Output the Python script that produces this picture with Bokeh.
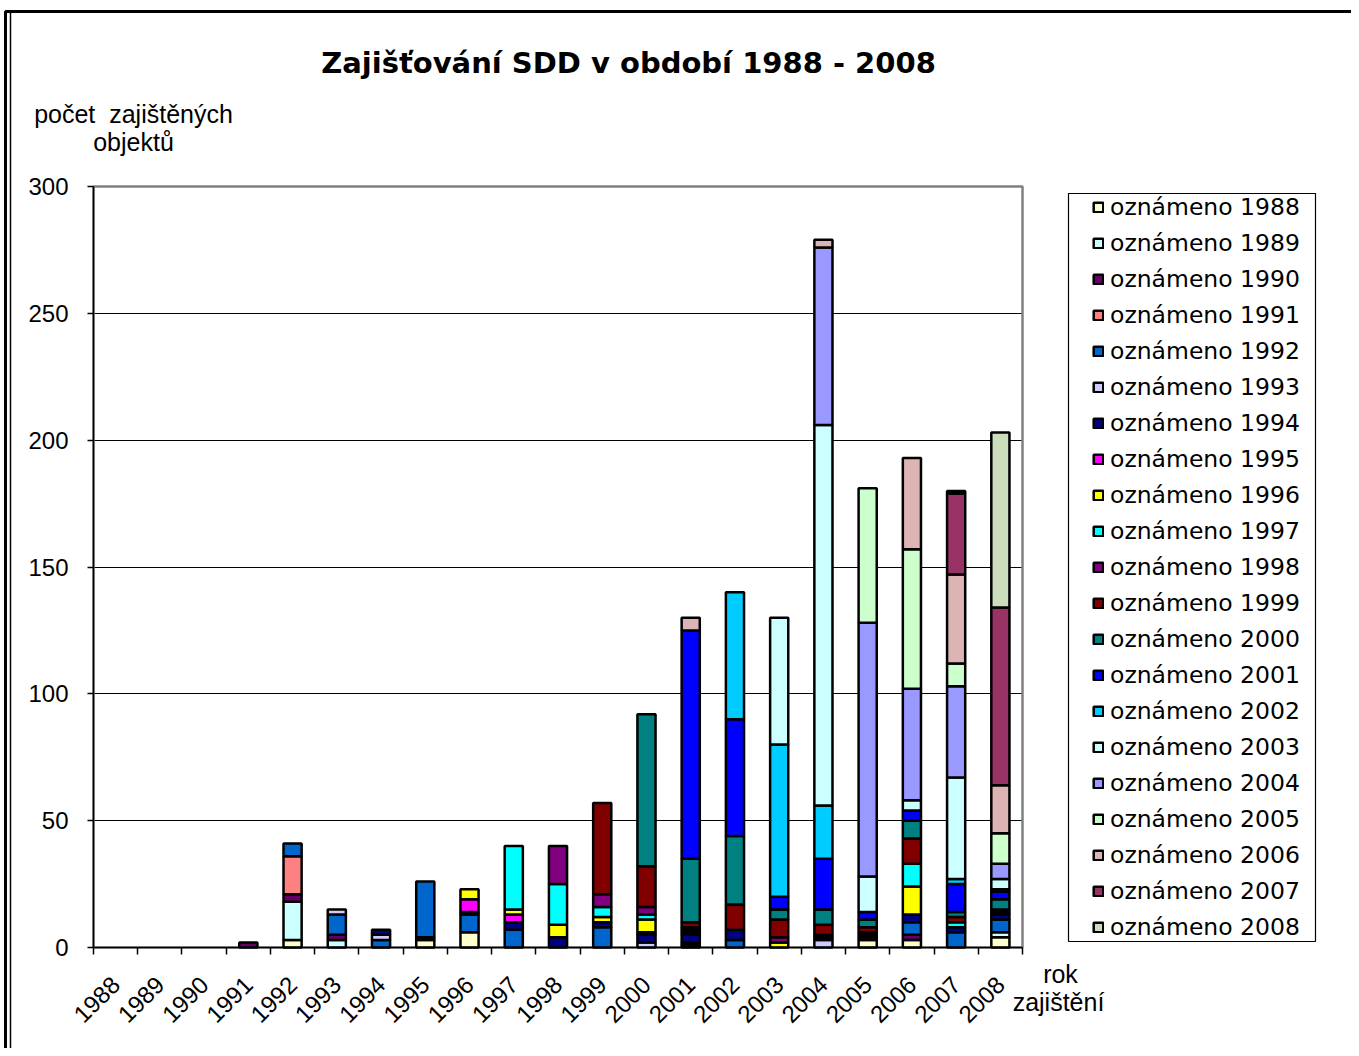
import math
from bokeh.plotting import figure
from bokeh.models import (Range1d, LinearAxis, FixedTicker, Grid,
                          Legend, LegendItem, Label, BoxAnnotation, ColumnDataSource)
from bokeh.embed import file_html
from bokeh.resources import INLINE

# ---------------- data ----------------
years = [str(y) for y in range(1988, 2009)]          # rok zajištění (x categories)
series_labels = ["oznámeno %d" % y for y in range(1988, 2009)]

o1988 = [0, 0, 0, 0, 3, 0, 0, 3, 6, 0, 0, 0, 0, 0, 0, 0, 0, 3, 3, 0, 4]
o1989 = [0, 0, 0, 0, 15, 3, 0, 0, 0, 0, 0, 0, 0, 1, 0, 0, 0, 0, 0, 0, 2]
o1990 = [0, 0, 0, 2, 3, 2, 0, 1, 0, 0, 0, 0, 0, 1, 0, 0, 0, 1, 2, 0, 0]
o1991 = [0, 0, 0, 0, 15, 0, 0, 0, 0, 0, 0, 0, 0, 0, 0, 0, 0, 0, 0, 0, 0]
o1992 = [0, 0, 0, 0, 5, 8, 3, 22, 7, 7, 0, 8, 0, 0, 3, 0, 0, 0, 5, 6, 5]
o1993 = [0, 0, 0, 0, 0, 2, 2, 0, 0, 0, 0, 0, 2, 0, 0, 0, 3, 0, 0, 0, 0]
o1994 = [0, 0, 0, 0, 0, 0, 2, 0, 1, 3, 4, 2, 3, 3, 4, 0, 1, 1, 3, 2, 2]
o1995 = [0, 0, 0, 0, 0, 0, 0, 0, 5, 3, 0, 0, 1, 1, 0, 0, 0, 0, 0, 0, 0]
o1996 = [0, 0, 0, 0, 0, 0, 0, 0, 4, 2, 5, 2, 5, 0, 0, 2, 0, 0, 11, 0, 0]
o1997 = [0, 0, 0, 0, 0, 0, 0, 0, 0, 25, 16, 4, 2, 1, 0, 0, 0, 0, 9, 2, 0]
o1998 = [0, 0, 0, 0, 0, 0, 0, 0, 0, 0, 15, 5, 3, 1, 0, 2, 1, 1, 0, 0, 1]
o1999 = [0, 0, 0, 0, 0, 0, 0, 0, 0, 0, 0, 36, 16, 2, 10, 7, 4, 2, 10, 2, 1]
o2000 = [0, 0, 0, 0, 0, 0, 0, 0, 0, 0, 0, 0, 60, 25, 27, 4, 6, 3, 7, 2, 4]
o2001 = [0, 0, 0, 0, 0, 0, 0, 0, 0, 0, 0, 0, 0, 90, 46, 5, 20, 3, 4, 11, 3]
o2002 = [0, 0, 0, 0, 0, 0, 0, 0, 0, 0, 0, 0, 0, 0, 50, 60, 21, 0, 0, 2, 1]
o2003 = [0, 0, 0, 0, 0, 0, 0, 0, 0, 0, 0, 0, 0, 0, 0, 50, 150, 14, 4, 40, 4]
o2004 = [0, 0, 0, 0, 0, 0, 0, 0, 0, 0, 0, 0, 0, 0, 0, 0, 70, 100, 44, 36, 6]
o2005 = [0, 0, 0, 0, 0, 0, 0, 0, 0, 0, 0, 0, 0, 0, 0, 0, 0, 53, 55, 9, 12]
o2006 = [0, 0, 0, 0, 0, 0, 0, 0, 0, 0, 0, 0, 0, 5, 0, 0, 3, 0, 36, 35, 19]
o2007 = [0, 0, 0, 0, 0, 0, 0, 0, 0, 0, 0, 0, 0, 0, 0, 0, 0, 0, 0, 32, 70]
o2008 = [0, 0, 0, 0, 0, 0, 0, 0, 0, 0, 0, 0, 0, 0, 0, 0, 0, 0, 0, 1, 69]

series = [o1988, o1989, o1990, o1991, o1992, o1993, o1994, o1995, o1996, o1997, o1998,
          o1999, o2000, o2001, o2002, o2003, o2004, o2005, o2006, o2007, o2008]

colors = ["#FFFFCC", "#CCFFFF", "#660066", "#FF8080", "#0066CC", "#CCCCFF", "#000080",
          "#FF00FF", "#FFFF00", "#00FFFF", "#800080", "#800000", "#008080", "#0000FF",
          "#00CCFF", "#CCFFFF", "#9999FF", "#CCFFCC", "#DDB4B4", "#993366", "#CCDDBB"]

y_ticks = [0, 50, 100, 150, 200, 250, 300]
y_max = 300

n = len(years)
centers = [i + 0.5 for i in range(n)]      # category i occupies slot [i, i+1]
bounds_ticks = list(range(n + 1))          # category boundaries (tick marks)

# ---------------- layout (pixels) ----------------
W, H = 1351, 1048
PL, PR, PT, PB = 93, 1022, 186, 947          # plot-area edges on the canvas
xs = (PR - PL) / n
ys = (PB - PT) / y_max
x_rng = Range1d(-PL / xs, (W - PL) / xs)
y_rng = Range1d(-(H - PB) / ys, y_max + PT / ys)

p = figure(x_range=x_rng, y_range=y_rng, width=W, height=H,
           output_backend="svg", toolbar_location=None,
           x_axis_location=None, y_axis_location="left",
           min_border=0, min_border_left=0, min_border_right=0,
           min_border_top=0, min_border_bottom=0)
p.background_fill_color = "white"
p.border_fill_color = "white"
p.outline_line_color = None
p.xgrid.visible = False

# y axis fixed at the left edge of the plot area
yax = p.yaxis[0]
yax.fixed_location = 0
yax.bounds = (0, y_max)
yax.ticker = FixedTicker(ticks=y_ticks)
yax.axis_line_color = "black"
yax.axis_line_width = 1.5
yax.major_tick_out = 6
yax.major_tick_in = 0
yax.major_tick_line_width = 1.5
yax.minor_tick_line_color = None
yax.major_label_text_font = "Liberation Sans"
yax.major_label_text_font_size = "24px"
yax.major_label_text_color = "black"
yax.major_label_standoff = 19

# horizontal grid lines across the plot area only
gr = p.ygrid[0]
gr.grid_line_color = "black"
gr.grid_line_width = 1
gr.bounds = (0, y_max)
if "cross_bounds" in Grid.properties():
    gr.cross_bounds = (0, n)
else:
    gr.visible = False
    p.segment(x0=[0] * len(y_ticks), x1=[n] * len(y_ticks), y0=y_ticks, y1=y_ticks,
              line_color="black", line_width=1)

# plot-area border (grey, top & right visible)
p.add_layout(BoxAnnotation(left=0, right=n, bottom=0, top=y_max, fill_color=None, fill_alpha=0,
                           line_color="#808080", line_alpha=1, line_width=2.5, level="underlay"))

# x axis: labels at category centres, tick marks (minor ticks) at category boundaries
xax = LinearAxis(ticker=FixedTicker(ticks=centers, minor_ticks=bounds_ticks),
                 fixed_location=0, bounds=(0, n))
xax.major_label_overrides = {c: y for c, y in zip(centers, years)}
xax.axis_line_color = "black"
xax.axis_line_width = 1.5
xax.major_tick_line_color = None
xax.minor_tick_line_color = "black"
xax.minor_tick_line_width = 1.5
xax.minor_tick_out = 7
xax.minor_tick_in = 0
xax.major_label_orientation = math.pi / 4
xax.major_label_standoff = 26
xax.major_label_text_font = "Liberation Sans"
xax.major_label_text_font_size = "24px"
xax.major_label_text_color = "black"
p.add_layout(xax, "below")

# stacked bars
items = []
cum = [0.0] * n
for vals, col, lab in zip(series, colors, series_labels):
    bottom, top = [], []
    for i, v in enumerate(vals):
        if v > 0:
            bottom.append(cum[i])
            top.append(cum[i] + v)
        else:
            bottom.append(float("nan"))
            top.append(float("nan"))
        cum[i] += v
    src = ColumnDataSource(dict(x=centers, bottom=bottom, top=top))
    r = p.vbar(x="x", bottom="bottom", top="top", width=0.41, source=src,
               fill_color=col, line_color="black", line_width=2.5)
    items.append(LegendItem(label=lab, renderers=[r]))

# legend frame (drawn separately so that box and rows can both match)
LB_L, LB_R, LB_T, LB_B = 1068, 1315, 193, 941
p.add_layout(BoxAnnotation(left=LB_L, right=LB_R, top=H - LB_T, bottom=H - LB_B,
                           left_units="screen", right_units="screen",
                           top_units="screen", bottom_units="screen",
                           fill_color="white", fill_alpha=1,
                           line_color="black", line_alpha=1, line_width=1.2))

ROW = 36
legend = Legend(items=items, location=(1092, H - (207 - ROW // 2 + ROW * len(items))))
legend.label_text_font = "DejaVu Sans"
legend.label_text_font_size = "23.5px"
legend.label_text_color = "black"
legend.glyph_width = 12
legend.glyph_height = 12
legend.label_standoff = 6
legend.label_height = ROW
legend.spacing = 0
legend.padding = 0
legend.border_line_color = None
legend.background_fill_alpha = 0
p.add_layout(legend)

# texts, placed by canvas pixel (x from left, y from top)
def add_text(txt, px, py, font="Liberation Sans", size="24px", style="normal"):
    p.add_layout(Label(x=px, y=H - py, x_units="screen", y_units="screen", text=txt,
                       text_font=font, text_font_size=size, text_font_style=style,
                       text_align="center", text_baseline="middle", text_color="black"))

add_text("Zajišťování SDD v období 1988 - 2008", 628, 62, font="DejaVu Sans", size="29px", style="bold")
add_text("počet\u00a0 zajištěných", 133, 113, size="25px")
add_text("objektů", 133, 141, size="25px")
add_text("rok", 1060, 973, size="25px")
add_text("zajištění", 1058, 1001, size="25px")

# outer chart frame: thick top edge, double left edge
p.add_layout(BoxAnnotation(left=5, right=W + 20, top=H - 11, bottom=-20,
                           left_units="screen", right_units="screen",
                           top_units="screen", bottom_units="screen",
                           fill_color=None, fill_alpha=0, line_color="black", line_alpha=1,
                           line_width=3))
p.add_layout(BoxAnnotation(left=10, right=W + 20, top=H - 11, bottom=-20,
                           left_units="screen", right_units="screen",
                           top_units="screen", bottom_units="screen",
                           fill_color=None, fill_alpha=0, line_color="black", line_alpha=1,
                           line_width=1.5))

open("out.html", "w").write(file_html(p, INLINE))
